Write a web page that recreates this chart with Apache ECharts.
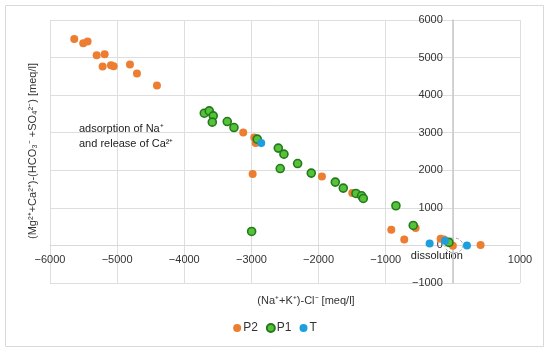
<!DOCTYPE html>
<html><head><meta charset="utf-8">
<script src="https://cdn.jsdelivr.net/npm/echarts@6/dist/echarts.min.js"></script>
<style>html,body{margin:0;padding:0;background:#fff}#c{width:550px;height:352px}</style>
</head><body><div id="c"></div>
<script>
const p2 = [[-5639,5496],[-5505,5381],[-5440,5425],[-5305,5062],[-5186,5089],[-5216,4760],[-5092,4796],[-5052,4770],[-4809,4813],[-4705,4573],[-4407,4254],[-3122,3005],[-2958,2872],[-2937,2723],[-2982,1898],[-1950,1835],[-1498,1393],[-917,417],[-724,160],[-554,462],[-182,178],[-130,160],[0,-8],[413,10]];
const p1 = [[-3702,3520],[-3628,3581],[-3569,3449],[-3583,3281],[-3360,3297],[-3260,3137],[-2913,2829],[-2600,2590],[-2516,2430],[-2571,2047],[-2312,2180],[-2109,1925],[-1751,1686],[-1632,1526],[-1443,1383],[-1359,1321],[-1334,1250],[-848,1056],[-590,532],[-58,80],[-2997,372]];
const tS = [[-2854,2723],[-346,53],[-118,125],[210,0]];
const seriesNames = ['P2','P1','T'];
const xTicks = [-6000,-5000,-4000,-3000,-2000,-1000,0,1000];
const yTicks = [-1000,0,1000,2000,3000,4000,5000,6000];

const font = 'Liberation Sans, Arial, sans-serif';
const fmt = v => v === 0 ? '0' : (v < 0 ? '\u2212' + Math.abs(v) : String(v));
const chart = echarts.init(document.getElementById('c'));
const grid = {left:50,right:30,top:20,bottom:69,containLabel:false};
chart.setOption({
  animation:false,
  grid:grid,
  xAxis:{type:'value',position:'bottom',min:xTicks[0],max:xTicks[xTicks.length-1],interval:1000,
    axisLine:{onZero:false,lineStyle:{color:'#d9d9d9'}},axisTick:{show:false},
    axisLabel:{color:'#333',fontFamily:font,fontSize:11,margin:9,hideOverlap:false,
      formatter:v=> v===0 ? '' : fmt(v)},
    splitLine:{lineStyle:{color:'#dedede'}}},
  yAxis:{type:'value',position:'left',min:yTicks[0],max:yTicks[yTicks.length-1],interval:1000,
    axisLine:{show:true,onZero:false,lineStyle:{color:'#c8c8c8',width:1.5}},axisTick:{show:false},
    axisLabel:{color:'#333',fontFamily:font,fontSize:11,margin:10,hideOverlap:false,showMinLabel:true,showMaxLabel:true,formatter:fmt},
    splitLine:{lineStyle:{color:'#dedede'}}},
  legend:{bottom:13,left:'center',icon:'circle',itemWidth:8,itemHeight:8,itemGap:8,
    textStyle:{fontFamily:font,fontSize:12,color:'#333',padding:[0,0,0,-3]},data:seriesNames},
  series:[
    {name:'P2',type:'scatter',data:p2,symbolSize:8,itemStyle:{color:'#ED7D31',opacity:1}},
    {name:'P1',type:'scatter',data:p1,symbolSize:8,itemStyle:{color:'#55C23A',borderColor:'#237A1C',borderWidth:1.6,opacity:1}},
    {name:'T',type:'scatter',data:tS,symbolSize:8,itemStyle:{color:'#1C9FDC',opacity:1}}
  ]
});
const o = chart.convertToPixel({gridIndex:0},[0,0]);
const bl = chart.convertToPixel({gridIndex:0},[xTicks[0],yTicks[0]]);
chart.setOption({
  xAxis:{offset:-(bl[1]-o[1])},
  yAxis:{offset:-(o[0]-bl[0])},
  graphic:[
  {type:'rect',shape:{x:5.5,y:5.5,width:538,height:341},style:{fill:'none',stroke:'#d9d9d9',lineWidth:1},silent:true},
  {type:'text',style:{text:'(Na\u207A+K\u207A)-Cl\u207B [meq/l]',x:306,y:301,align:'center',verticalAlign:'middle',font:'11px '+font,fill:'#333'}},
  {type:'text',x:33,y:151,rotation:Math.PI/2,style:{text:'(Mg\u00B2\u207A+Ca\u00B2\u207A)-(HCO\u2083\u207B +SO\u2084\u00B2\u207B) [meq/l]',x:0,y:0,align:'center',verticalAlign:'middle',font:'11px '+font,fill:'#333'}},
  {type:'text',style:{text:'adsorption of Na\u207A\nand release of Ca\u00B2\u207A',x:79,y:121,lineHeight:15,font:'11px '+font,fill:'#222'}},
  {type:'text',style:{text:'dissolution',x:o[0]-16,y:o[1]+11,align:'center',verticalAlign:'middle',font:'11px '+font,fill:'#222'}},
  {type:'ellipse',shape:{cx:o[0]+1,cy:o[1],rx:9,ry:7.5},style:{fill:'none',stroke:'#a0a0a0',lineWidth:1,lineDash:[3,2]}}
]});
</script></body></html>
